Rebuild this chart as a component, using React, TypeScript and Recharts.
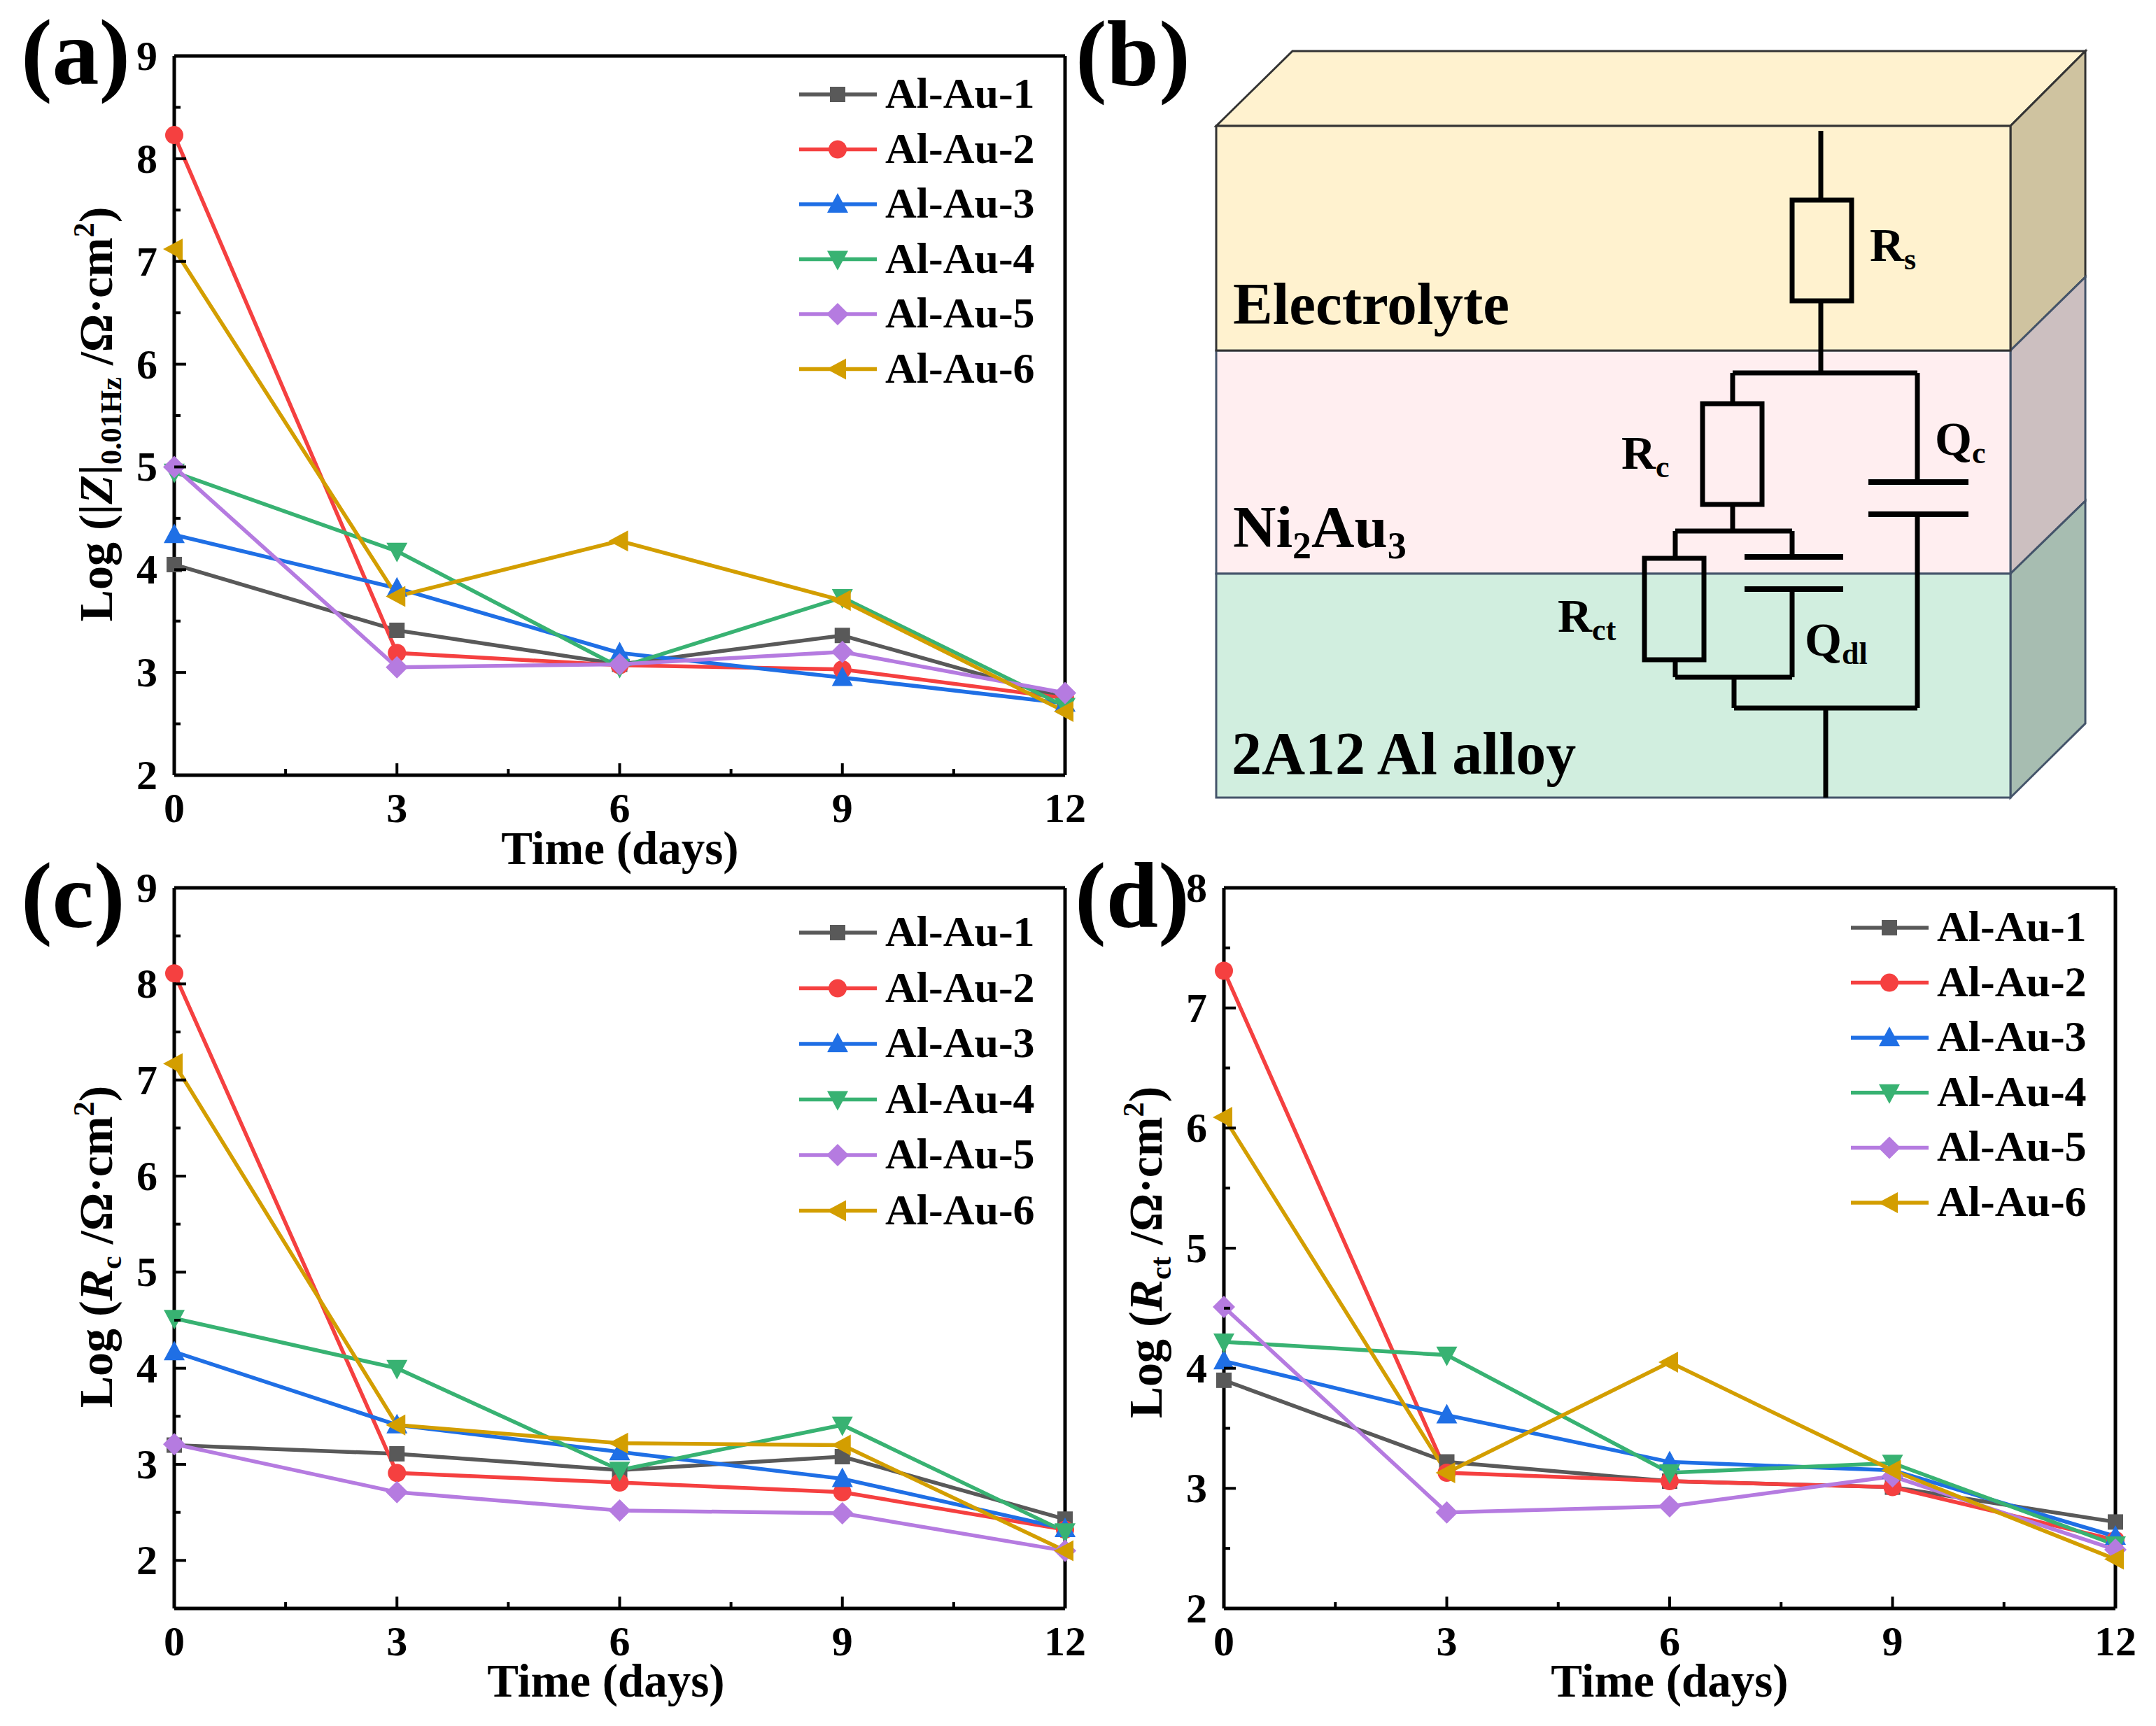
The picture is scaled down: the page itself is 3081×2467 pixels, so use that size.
import { Label, Legend, Line, LineChart, ReferenceLine, XAxis, YAxis } from 'recharts';

const FONT = '"Liberation Serif", "Times New Roman", serif';

const days = [0, 3, 6, 9, 12];
const xTicks = [0, 1.5, 3, 4.5, 6, 7.5, 9, 10.5, 12];
const seriesNames = ['Al-Au-1', 'Al-Au-2', 'Al-Au-3', 'Al-Au-4', 'Al-Au-5', 'Al-Au-6'];
const seriesColors = ['#595959', '#f54040', '#1f6fe5', '#38b272', '#b57be0', '#d39e00'];
const seriesShapes = ['square', 'circle', 'up', 'down', 'diamond', 'left'];

// panel (a) Log |Z| at 0.01 Hz
const zAu1 = [4.05, 3.41, 3.08, 3.36, 2.75];
const zAu2 = [8.23, 3.19, 3.07, 3.03, 2.75];
const zAu3 = [4.34, 3.82, 3.19, 2.95, 2.7];
const zAu4 = [4.95, 4.18, 3.05, 3.73, 2.67];
const zAu5 = [5.0, 3.05, 3.08, 3.2, 2.8];
const zAu6 = [7.12, 3.74, 4.28, 3.7, 2.62];

// panel (c) Log Rc
const rcAu1 = [3.2, 3.11, 2.94, 3.08, 2.43];
const rcAu2 = [8.11, 2.91, 2.81, 2.71, 2.32];
const rcAu3 = [4.17, 3.41, 3.13, 2.85, 2.33];
const rcAu4 = [4.52, 4.0, 2.94, 3.41, 2.3];
const rcAu5 = [3.21, 2.71, 2.52, 2.49, 2.1];
const rcAu6 = [7.17, 3.41, 3.22, 3.2, 2.1];

// panel (d) Log Rct
const rctAu1 = [3.9, 3.22, 3.06, 3.01, 2.72];
const rctAu2 = [7.31, 3.13, 3.06, 3.01, 2.57];
const rctAu3 = [4.06, 3.61, 3.22, 3.15, 2.6];
const rctAu4 = [4.22, 4.11, 3.13, 3.21, 2.53];
const rctAu5 = [4.51, 2.8, 2.85, 3.1, 2.49];
const rctAu6 = [6.09, 3.13, 4.05, 3.15, 2.41];

const yTicksA = [2, 2.5, 3, 3.5, 4, 4.5, 5, 5.5, 6, 6.5, 7, 7.5, 8, 8.5, 9];
const yTicksC = [1.5, 2, 2.5, 3, 3.5, 4, 4.5, 5, 5.5, 6, 6.5, 7, 7.5, 8, 8.5, 9];
const yTicksD = [2, 2.5, 3, 3.5, 4, 4.5, 5, 5.5, 6, 6.5, 7, 7.5, 8];

const buildRows = (series: number[][]) =>
	days.map((day, i) => {
		const row: Record<string, number> = { day };
		seriesNames.forEach((name, s) => {
			row[name] = series[s][i];
		});
		return row;
	});

const Marker = ({ shape, cx, cy, color }: { shape: string; cx: number; cy: number; color: string }) => {
	const r = 13;
	if (shape === 'square') return <rect x={cx - 11} y={cy - 11} width={22} height={22} fill={color} />;
	if (shape === 'circle') return <circle cx={cx} cy={cy} r={r} fill={color} />;
	const pts: Record<string, number[][]> = {
		up: [[0, -r - 3], [r + 2, r - 1], [-r - 2, r - 1]],
		down: [[0, r + 3], [r + 2, -r + 1], [-r - 2, -r + 1]],
		left: [[-r - 3, 0], [r - 1, -r - 2], [r - 1, r + 2]],
		diamond: [[0, -r - 3], [r + 3, 0], [0, r + 3], [-r - 3, 0]],
	};
	return <polygon points={pts[shape].map(([x, y]) => `${cx + x},${cy + y}`).join(' ')} fill={color} />;
};

const XTick = ({ x, y, payload }: any) => {
	const major = payload.value % 3 === 0;
	return (
		<g>
			<line x1={x} x2={x} y1={y} y2={y - (major ? 17 : 9)} stroke="#000" strokeWidth={4} />
			{major && (
				<text x={x} y={y + 67} textAnchor="middle" fontFamily={FONT} fontWeight="bold" fontSize={60} fill="#000">
					{payload.value}
				</text>
			)}
		</g>
	);
};

const YTick = ({ x, y, payload }: any) => {
	const major = Number.isInteger(payload.value);
	return (
		<g>
			<line x1={x} x2={x + (major ? 17 : 9)} y1={y} y2={y} stroke="#000" strokeWidth={4} />
			{major && (
				<text x={x - 24} y={y + 20} textAnchor="end" fontFamily={FONT} fontWeight="bold" fontSize={60} fill="#000">
					{payload.value}
				</text>
			)}
		</g>
	);
};

const LegendBox = ({ payload, step }: any) => (
	<svg width={360} height={step * 6 + 10} style={{ display: 'block', overflow: 'visible' }}>
		{(payload || []).map((item: any, i: number) => {
			const cy = 40 + i * step;
			const s = seriesNames.indexOf(item.value);
			return (
				<g key={item.value}>
					<line x1={0} x2={111} y1={cy} y2={cy} stroke={seriesColors[s]} strokeWidth={5.5} />
					<Marker shape={seriesShapes[s]} cx={55} cy={cy} color={seriesColors[s]} />
					<text x={123} y={cy + 19} fontFamily={FONT} fontWeight="bold" fontSize={62} fill="#000">
						{item.value}
					</text>
				</g>
			);
		})}
	</svg>
);

const Panel = ({ left, top, width, height, plot, domain, ticks, series, yLabel, yLabelX, yLabelY, xLabelX, xLabelY, legendX, legendY, step }: any) => (
	<div style={{ position: 'absolute', left, top, width, height }}>
		<LineChart
			width={width}
			height={height}
			data={buildRows(series)}
			margin={{ top: plot.top - top, right: left + width - plot.right, bottom: 0, left: 0 }}
		>
			<XAxis
				dataKey="day"
				type="number"
				domain={[0, 12]}
				ticks={xTicks}
				interval={0}
				height={top + height - plot.bottom}
				tickLine={false}
				tickSize={0}
				tickMargin={0}
				axisLine={{ stroke: '#000', strokeWidth: 5 }}
				tick={<XTick />}
			>
				<Label
					content={() => (
						<text x={xLabelX - left} y={xLabelY - top} textAnchor="middle" fontFamily={FONT} fontWeight="bold" fontSize={67} fill="#000">
							Time (days)
						</text>
					)}
				/>
			</XAxis>
			<YAxis
				type="number"
				domain={domain}
				ticks={ticks}
				interval={0}
				width={plot.left - left}
				tickLine={false}
				tickSize={0}
				tickMargin={0}
				axisLine={{ stroke: '#000', strokeWidth: 5 }}
				tick={<YTick />}
			>
				<Label
					content={() => (
						<text
							transform={`translate(${yLabelX - left},${yLabelY - top}) rotate(-90)`}
							textAnchor="middle"
							fontFamily={FONT}
							fontWeight="bold"
							fontSize={68}
							fill="#000"
						>
							{yLabel}
						</text>
					)}
				/>
			</YAxis>
			<ReferenceLine y={domain[1]} stroke="#000" strokeWidth={5} />
			<ReferenceLine x={12} stroke="#000" strokeWidth={5} />
			{seriesNames.map((name, s) => (
				<Line
					key={name}
					dataKey={name}
					stroke={seriesColors[s]}
					strokeWidth={5.5}
					isAnimationActive={false}
					dot={(p: any) => <Marker key={`${name}-${p.index}`} shape={seriesShapes[s]} cx={p.cx} cy={p.cy} color={seriesColors[s]} />}
				/>
			))}
			<Legend
				layout="vertical"
				align="center"
				verticalAlign="middle"
				wrapperStyle={{ left: legendX - left, top: legendY - top, width: 360, right: 'auto', bottom: 'auto' }}
				content={(props: any) => <LegendBox payload={props.payload} step={step} />}
			/>
		</LineChart>
	</div>
);

const wire = { stroke: '#000', strokeWidth: 7, fill: 'none' };
const label = { fontFamily: FONT, fontWeight: 'bold' as const, fill: '#000' };

const Schematic = () => (
	<g>
		<polygon points="1738,180 1847,73 2980,73 2873,180" fill="#fff2cf" stroke="#333" strokeWidth={3} />
		<polygon points="2873,180 2980,73 2980,396 2873,501" fill="#cfc3a0" stroke="#333" strokeWidth={3} />
		<polygon points="2873,501 2980,396 2980,716 2873,820" fill="#ccbfc0" stroke="#44546a" strokeWidth={3} />
		<polygon points="2873,820 2980,716 2980,1034 2873,1140" fill="#a7bdb1" stroke="#44546a" strokeWidth={3} />
		<rect x={1738} y={501} width={1135} height={319} fill="#ffeef0" stroke="#44546a" strokeWidth={3} />
		<rect x={1738} y={820} width={1135} height={320} fill="#d1eedf" stroke="#44546a" strokeWidth={3} />
		<rect x={1738} y={180} width={1135} height={321} fill="#fff2cf" stroke="#333" strokeWidth={3} />

		<path d="M2602 187V286M2602 430V533M2476 533H2740M2476 533V577M2476 721V759M2394 759H2561M2394 759V798M2394 943V968M2394 968H2561M2561 759V796M2561 842V968M2478 968V1012M2478 1012H2740M2740 1012V735M2740 689V533M2609 1012V1140" {...wire} />
		<rect x={2561} y={286} width={85} height={144} {...wire} />
		<rect x={2433} y={577} width={85} height={144} {...wire} />
		<rect x={2350} y={798} width={85} height={145} {...wire} />
		<path d="M2493 796H2634M2493 842H2634M2670 689H2813M2670 735H2813" {...wire} strokeWidth={8} />

		<text x={1762} y={463} fontSize={85} {...label}>Electrolyte</text>
		<text x={1762} y={782} fontSize={85} {...label}>
			Ni<tspan fontSize={54} dy={16}>2</tspan><tspan dy={-16}>Au</tspan><tspan fontSize={54} dy={16}>3</tspan>
		</text>
		<text x={1760} y={1106} fontSize={86} {...label}>2A12 Al alloy</text>

		<text x={2672} y={373} fontSize={68} {...label}>R<tspan fontSize={44} dy={12}>s</tspan></text>
		<text x={2317} y={670} fontSize={68} {...label}>R<tspan fontSize={44} dy={12}>c</tspan></text>
		<text x={2765} y={650} fontSize={68} {...label}>Q<tspan fontSize={44} dy={12}>c</tspan></text>
		<text x={2226} y={903} fontSize={68} {...label}>R<tspan fontSize={44} dy={12}>ct</tspan></text>
		<text x={2579} y={937} fontSize={68} {...label}>Q<tspan fontSize={44} dy={12}>dl</tspan></text>
	</g>
);

const App = () => (
	<div style={{ position: 'absolute', left: 0, top: 0, width: 3081, height: 2467, background: '#fff', overflow: 'hidden' }}>
		<Panel
			left={0}
			top={0}
			width={1560}
			height={1260}
			plot={{ left: 249, right: 1522, top: 80, bottom: 1108 }}
			domain={[2, 9]}
			ticks={yTicksA}
			series={[zAu1, zAu2, zAu3, zAu4, zAu5, zAu6]}
			yLabel={<>Log (|<tspan fontStyle="italic">Z</tspan>|<tspan fontSize={42} dy={13}>0.01Hz</tspan><tspan dy={-13}> /Ω·cm</tspan><tspan fontSize={42} dy={-26}>2</tspan><tspan dy={26}>)</tspan></>}
			yLabelX={160}
			yLabelY={592}
			xLabelX={886}
			xLabelY={1235}
			legendX={1142}
			legendY={95}
			step={78.5}
		/>
		<Panel
			left={0}
			top={1215}
			width={1560}
			height={1252}
			plot={{ left: 249, right: 1522, top: 1269, bottom: 2299 }}
			domain={[1.5, 9]}
			ticks={yTicksC}
			series={[rcAu1, rcAu2, rcAu3, rcAu4, rcAu5, rcAu6]}
			yLabel={<>Log (<tspan fontStyle="italic">R</tspan><tspan fontSize={42} dy={13}>c</tspan><tspan dy={-13}> /Ω·cm</tspan><tspan fontSize={42} dy={-26}>2</tspan><tspan dy={26}>)</tspan></>}
			yLabelX={160}
			yLabelY={1782}
			xLabelX={866}
			xLabelY={2425}
			legendX={1142}
			legendY={1293}
			step={79.5}
		/>
		<Panel
			left={1530}
			top={1215}
			width={1551}
			height={1252}
			plot={{ left: 1749, right: 3023, top: 1269, bottom: 2299 }}
			domain={[2, 8]}
			ticks={yTicksD}
			series={[rctAu1, rctAu2, rctAu3, rctAu4, rctAu5, rctAu6]}
			yLabel={<>Log (<tspan fontStyle="italic">R</tspan><tspan fontSize={42} dy={13}>ct</tspan><tspan dy={-13}> /Ω·cm</tspan><tspan fontSize={42} dy={-26}>2</tspan><tspan dy={26}>)</tspan></>}
			yLabelX={1660}
			yLabelY={1790}
			xLabelX={2386}
			xLabelY={2425}
			legendX={2645}
			legendY={1286}
			step={78.6}
		/>
		<svg width={3081} height={2467} style={{ position: 'absolute', left: 0, top: 0, pointerEvents: 'none' }}>
			<Schematic />
			<text x={30} y={120} fontSize={134} {...label}>(a)</text>
			<text x={1537} y={122} fontSize={134} {...label}>(b)</text>
			<text x={30} y={1325} fontSize={134} {...label}>(c)</text>
			<text x={1536} y={1325} fontSize={134} {...label}>(d)</text>
		</svg>
	</div>
);

export default App;
